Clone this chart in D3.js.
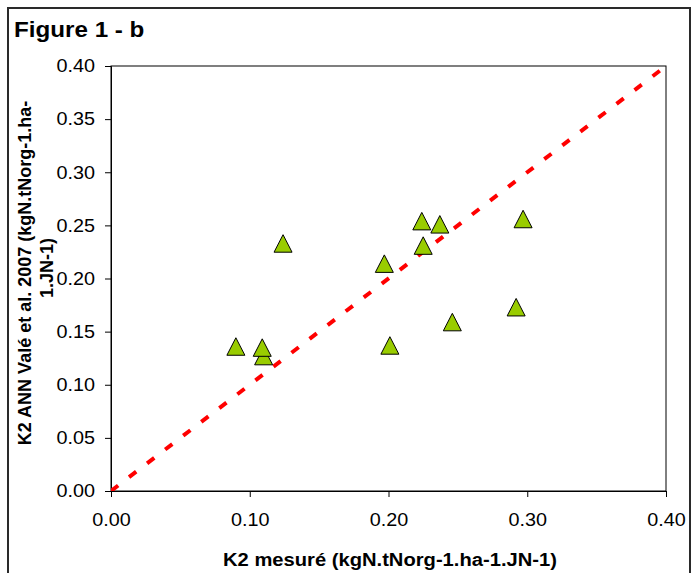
<!DOCTYPE html>
<html>
<head>
<meta charset="utf-8">
<script src="https://cdn.jsdelivr.net/npm/d3@7/dist/d3.min.js"></script>
<style>
  html, body { margin: 0; padding: 0; background: #fff; }
  svg { display: block; }
  text { font-family: Arial, "Liberation Sans", sans-serif; fill: #000; }
</style>
</head>
<body>
<svg id="chart" width="698" height="573"></svg>
<script>
// Data
const measured  = [0.124, 0.224, 0.237, 0.297, 0.225, 0.197, 0.292, 0.246, 0.201, 0.090, 0.110, 0.109];
const predicted = [0.233, 0.254, 0.251, 0.256, 0.231, 0.214, 0.173, 0.159, 0.137, 0.136, 0.127, 0.135];
const xTicks = [0.00, 0.10, 0.20, 0.30, 0.40];
const yTicks = [0.00, 0.05, 0.10, 0.15, 0.20, 0.25, 0.30, 0.35, 0.40];
const lineOneToOne = [[0, 0], [0.4, 0.4]];

const svg = d3.select("#chart");
const STRETCH = 1.1; // horizontal stretch of the reference text

function stretch(sel, k) {
  sel.each(function () {
    const w = this.getComputedTextLength();
    d3.select(this).attr("textLength", w * k).attr("lengthAdjust", "spacingAndGlyphs");
  });
}

// Outer chart frame
svg.append("rect")
  .attr("x", 8).attr("y", 8).attr("width", 682).attr("height", 580)
  .attr("fill", "none").attr("stroke", "#2a2a2a").attr("stroke-width", 2);

const pL = 111, pR = 666, pT = 66, pB = 491;
const x = d3.scaleLinear().domain([0, 0.4]).range([pL, pR]);
const y = d3.scaleLinear().domain([0, 0.4]).range([pB, pT]);

// Plot area border
svg.append("rect")
  .attr("x", pL).attr("y", pT).attr("width", pR - pL).attr("height", pB - pT)
  .attr("fill", "none").attr("stroke", "#000").attr("stroke-width", 1);

// Axes
const xAxis = d3.axisBottom(x).tickValues(xTicks).tickSize(6).tickPadding(16).tickFormat(d3.format(".2f"));
const yAxis = d3.axisLeft(y).tickValues(yTicks).tickSize(6).tickPadding(10).tickFormat(d3.format(".2f"));

const gx = svg.append("g").attr("transform", `translate(0,${pB})`).call(xAxis);
const gy = svg.append("g").attr("transform", `translate(${pL},0)`).call(yAxis);
[gx, gy].forEach(g => {
  g.select(".domain").attr("stroke", "#000");
  g.selectAll(".tick line").attr("stroke", "#000");
  g.selectAll(".tick text").attr("font-size", 18).attr("font-family", 'Arial, "Liberation Sans", sans-serif').attr("fill", "#000");
  stretch(g.selectAll(".tick text"), STRETCH);
});

// Clip for the dashed line
svg.append("clipPath").attr("id", "plotclip").append("rect")
  .attr("x", pL).attr("y", pT).attr("width", pR - pL).attr("height", pB - pT);

// 1:1 dashed line
svg.append("path")
  .datum(lineOneToOne)
  .attr("d", d3.line().x(d => x(d[0])).y(d => y(d[1])))
  .attr("fill", "none")
  .attr("stroke", "#ff0000")
  .attr("stroke-width", 4)
  .attr("stroke-dasharray", "9,13.74")
  .attr("clip-path", "url(#plotclip)");

// Triangle markers
const tw = 18, th = 17.5;
const tri = `M0,${-th/2}L${tw/2},${th/2}L${-tw/2},${th/2}Z`;
svg.append("g").selectAll("path")
  .data(measured.map((m, i) => [m, predicted[i]]))
  .join("path")
  .attr("d", tri)
  .attr("transform", d => `translate(${x(d[0])},${y(d[1])})`)
  .attr("fill", "#99cc00")
  .attr("stroke", "#000")
  .attr("stroke-width", 1);

// Title
const title = svg.append("text")
  .attr("x", 14).attr("y", 37)
  .attr("font-size", 21.5).attr("font-weight", "bold")
  .text("Figure 1 - b");
stretch(title, 1.125);

// X axis title
const xt = svg.append("text")
  .attr("x", 390).attr("y", 566)
  .attr("text-anchor", "middle")
  .attr("font-size", 18).attr("font-weight", "bold")
  .text("K2 mesuré (kgN.tNorg-1.ha-1.JN-1)");
stretch(xt, 1.12);

// Y axis title (two lines, rotated)
svg.append("text")
  .attr("transform", "translate(31,273) rotate(-90)")
  .attr("text-anchor", "middle")
  .attr("font-size", 18).attr("font-weight", "bold")
  .text("K2 ANN Valé et al. 2007 (kgN.tNorg-1.ha-");
svg.append("text")
  .attr("transform", "translate(53,268) rotate(-90)")
  .attr("text-anchor", "middle")
  .attr("font-size", 18).attr("font-weight", "bold")
  .text("1.JN-1)");
</script>
</body>
</html>
